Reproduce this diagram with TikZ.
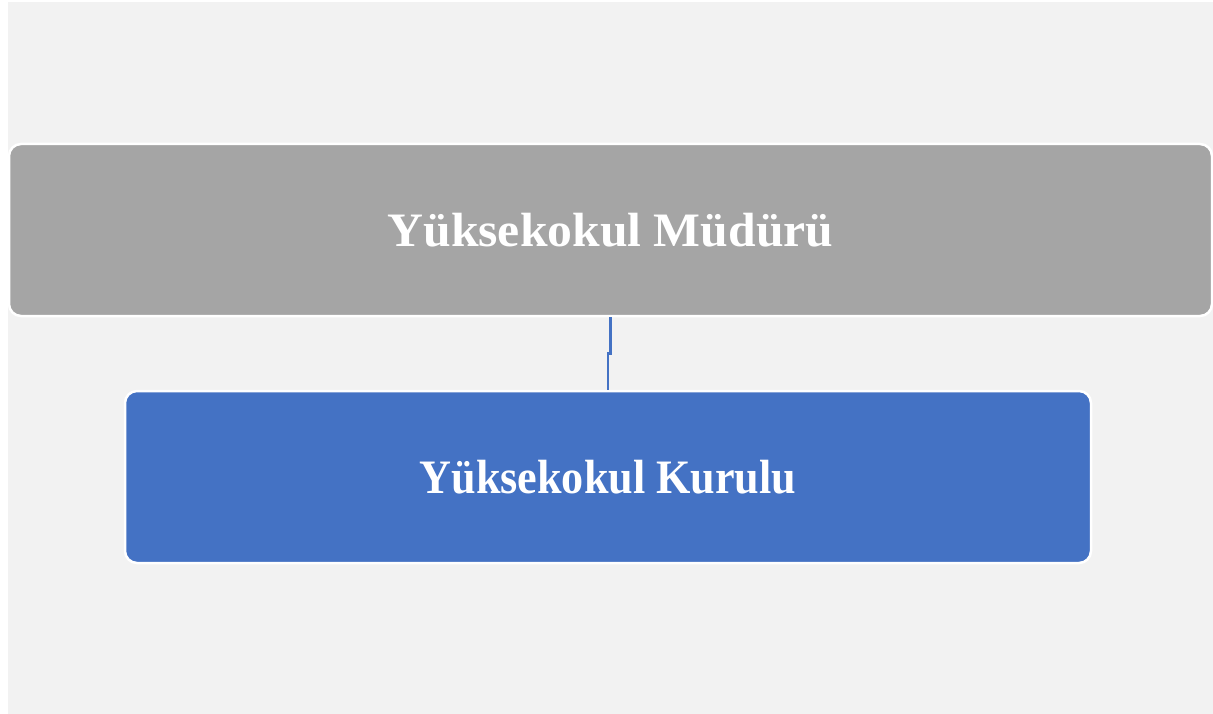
\documentclass[tikz,border=0pt]{standalone}
\usepackage{fontspec}
\setmainfont{Liberation Serif}
\definecolor{bggray}{HTML}{F2F2F2}
\definecolor{boxgray}{HTML}{A5A5A5}
\definecolor{boxblue}{HTML}{4472C4}
\begin{document}
\begin{tikzpicture}[x=1pt,y=-1pt,
  orgbox/.style={draw=white, line width=2.5pt, rounded corners=12pt, inner sep=0pt,
    text=white, font=\fontsize{48}{56}\selectfont\bfseries},
  conn/.style={draw=boxblue, line width=2.6pt}]
\useasboundingbox (0,0) rectangle (1213,714);
\fill[bggray] (8,2) rectangle (1213,714);
\node[orgbox, fill=boxgray, minimum width=1203pt, minimum height=172pt] (top) at (610.5,230) {\scalebox{1.035}[1]{Yüksekokul Müdürü}};
\node[orgbox, fill=boxblue, minimum width=966pt, minimum height=172pt] (bot) at (608,477) {\scalebox{0.92}[1]{Yüksekokul Kurulu}};
\draw[conn] (top.south) -- ++(0,36) -| (bot.north);
\end{tikzpicture}
\end{document}
